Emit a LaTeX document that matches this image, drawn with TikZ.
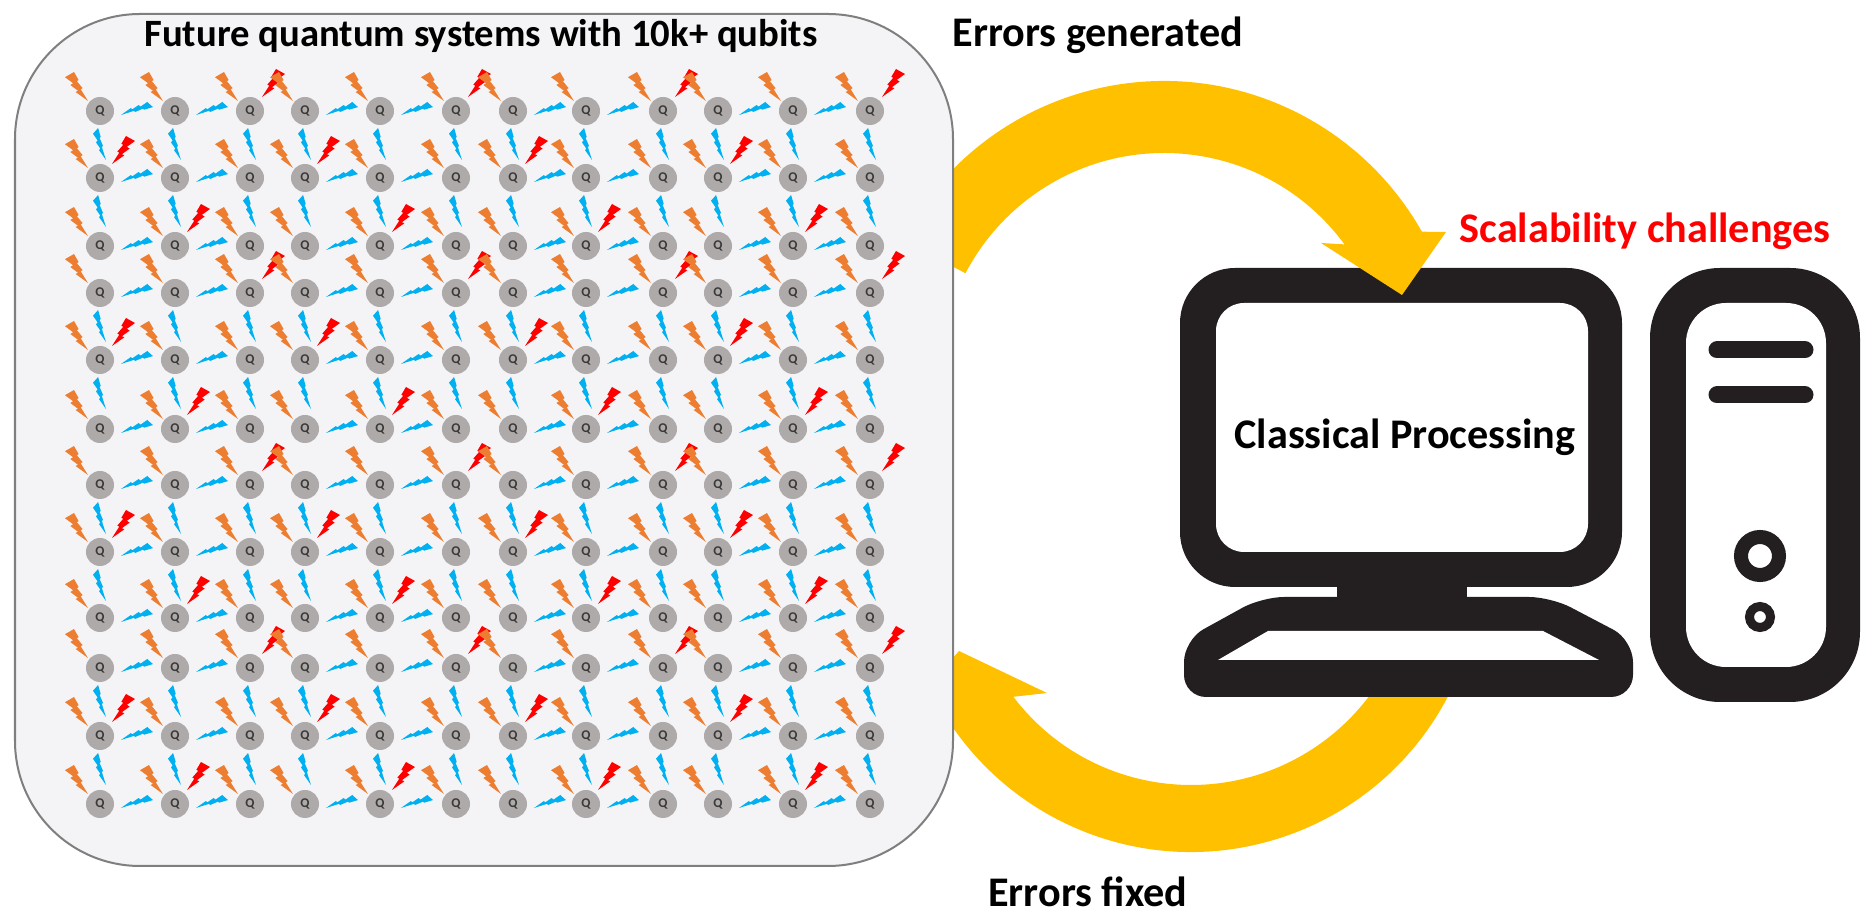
\documentclass[tikz,border=0pt]{standalone}
\usepackage{fontspec}
\setmainfont{Carlito}
\usetikzlibrary{calc}

\definecolor{qgrey}{HTML}{AEAAAA}
\definecolor{qtext}{HTML}{3B3838}
\definecolor{boltorange}{HTML}{ED7D31}
\definecolor{boltblue}{HTML}{00B0F0}
\definecolor{boltred}{HTML}{FF0000}
\definecolor{loopyellow}{HTML}{FFC000}
\definecolor{boxfill}{HTML}{F4F4F6}
\definecolor{boxline}{HTML}{7F7F7F}
\definecolor{pcblack}{HTML}{231F20}

\begin{document}
\begin{tikzpicture}[x=0.01cm, y=-0.01cm]
	\tikzset{qubit/.style = {shape=circle, fill=qgrey, minimum size=0.28cm, inner sep=0pt, text=qtext, font=\fontsize{3.8}{4}\selectfont\bfseries}}
	\tikzset{headtext/.style = {anchor=base, font=\fontsize{12}{14}\selectfont\bfseries}}
	\tikzset{bolt/.pic = {\fill (0.392,0) -- (0.595,0.281) -- (0.512,0.315) -- (0.767,0.556) -- (0.684,0.596) -- (1,1) -- (0.464,0.691) -- (0.566,0.648) -- (0.233,0.449) -- (0.352,0.388) -- (0,0.180) -- cycle;}}
	\tikzset{orangebolt/.style = {boltorange, xscale=23, yscale=29}}
	\tikzset{redbolt/.style = {boltred, xscale=-23, yscale=28}}
	\tikzset{vbolt/.style = {boltblue, xscale=13, yscale=32}}
	\tikzset{hbolt/.style = {boltblue, rotate=-90, xscale=13, yscale=32}}

	\useasboundingbox (0,0) rectangle (1865,913);

	\coordinate (hub_gen) at (1164,377);
	\coordinate (hub_fix) at (1191,562);

	\fill[loopyellow] ($(hub_fix)+(25:223)$) -- ($(hub_fix)+(25:290)$) arc[start angle=25, end angle=150, radius=290]
		-- (905,712) -- (959,651) -- (1047,693) -- ($(hub_fix)+(142.8:223)$) arc[start angle=142.8, end angle=25, radius=223] -- cycle;

	\fill[pcblack, rounded corners=0.55cm] (1180,268) rectangle (1622,587);
	\fill[white, rounded corners=0.28cm] (1216,303) rectangle (1588,552);
	\fill[pcblack] (1337,580) rectangle (1467,600);
	\fill[pcblack, rounded corners=0.22cm] (1262,597) -- (1551,597) -- (1633,640) -- (1633,697) -- (1184,697) -- (1184,640) -- cycle;
	\fill[white] (1268,631) -- (1543,631) -- (1599,660) -- (1218,660) -- cycle;

	\fill[pcblack, rounded corners=0.7cm] (1650,268) rectangle (1860,702);
	\fill[white, rounded corners=0.4cm] (1686,303) rectangle (1826,667);
	\draw[pcblack, line width=0.17cm, line cap=round] (1717,350) -- (1805,350);
	\draw[pcblack, line width=0.17cm, line cap=round] (1717,395) -- (1805,395);
	\draw[pcblack, line width=0.14cm] (1760,556) circle[radius=19];
	\draw[pcblack, line width=0.09cm] (1760,617) circle[radius=10.5];

	\fill[loopyellow] ($(hub_gen)+(207.6:224)$) -- ($(hub_gen)+(207.6:296)$) arc[start angle=207.6, end angle=330.6, radius=296]
		-- (1446,232) -- (1402,295) -- (1321,243) -- ($(hub_gen)+(323.7:224)$) arc[start angle=323.7, end angle=207.6, radius=224] -- cycle;

	\draw[boxline, fill=boxfill, line width=0.02cm, rounded corners=1.25cm] (15,14) rectangle (953,866);

	\foreach \y [count=\r] in {111,178,246,293,360,429,485,552,618,668,736,804} {
		\foreach \x [count=\c] in {100,175,250,305,380,456,513,586,663,718,793,870} {
			\node[qubit] (Q_\r_\c) at (\x,\y) {Q};
		}
	}

	\foreach \r in {1,...,12} {
		\foreach \c in {1,...,12} {
			\pgfmathtruncatemacro{\rowpos}{mod(\r-1,3)+1}
			\pgfmathtruncatemacro{\colpos}{mod(\c-1,3)+1}
			\pgfmathtruncatemacro{\hot}{mod(\rowpos+1,3)+1}
			\ifnum\colpos=\hot \pic[redbolt] at ($(Q_\r_\c)+(35,-42)$) {bolt}; \fi
			\pic[orangebolt] at ($(Q_\r_\c)+(-35,-39)$) {bolt};
			\ifnum\rowpos<3 \pic[vbolt] at ($(Q_\r_\c)+(-7,17)$) {bolt}; \fi
			\ifnum\colpos<3 \pic[hbolt] at ($(Q_\r_\c)+(53,-9)$) {bolt}; \fi
		}
	}

	\node[headtext, font=\fontsize{11}{13}\selectfont\bfseries] (title) at (481,47) {Future quantum systems with 10k+ qubits};
	\node[headtext] (gen) at (1098,47) {Errors generated};
	\node[headtext, text=boltred] (scal) at (1645,243) {Scalability challenges};
	\node[headtext] (cpu) at (1405,449) {Classical Processing};
	\node[headtext] (fixed) at (1088,907) {Errors fixed};

\end{tikzpicture}
\end{document}
